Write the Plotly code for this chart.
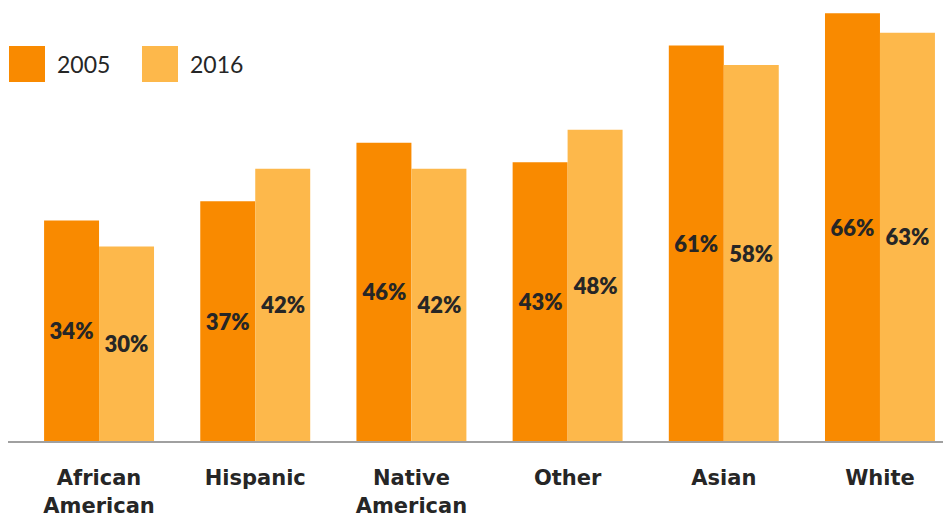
import plotly.graph_objects as go

categories = ["African<br>American", "Hispanic", "Native<br>American", "Other", "Asian", "White"]
values_2005 = [34, 37, 46, 43, 61, 66]
values_2016 = [30, 42, 42, 48, 58, 63]
series_names = ["2005", "2016"]
colors = ["#F98A00", "#FDB84B"]

FONT = "Lato"
TXT = "#262626"

W, H = 951, 517
PLOT_H = 433  # plot area height in figure pixels

fig = go.Figure()
for name, vals, col in zip(series_names, [values_2005, values_2016], colors):
    fig.add_trace(go.Bar(
        x=categories, y=vals, name=name, marker=dict(color=col, line=dict(width=0)),
        texttemplate="%{y}%", textposition="inside", insidetextanchor="middle",
        textfont=dict(family=FONT, size=22, color=TXT, weight=800),
        textangle=0, showlegend=False, hoverinfo="skip",
    ))

# legend drawn as shapes + annotations for large swatches
leg_x = [1, 134]
for i, (name, col) in enumerate(zip(series_names, colors)):
    x0 = leg_x[i]
    fig.add_shape(type="rect", xref="paper", yref="paper",
                  x0=x0 / W, x1=(x0 + 36) / W,
                  y0=(PLOT_H - 74) / PLOT_H, y1=(PLOT_H - 38) / PLOT_H,
                  fillcolor=col, line=dict(width=0), layer="above")
    fig.add_annotation(xref="paper", yref="paper",
                       x=(x0 + 46) / W, y=(PLOT_H - 56) / PLOT_H,
                       xanchor="left", yanchor="middle", showarrow=False,
                       text=name, font=dict(family=FONT, size=23, color=TXT))

fig.update_layout(
    width=W, height=H,
    margin=dict(l=0, r=0, t=0, b=H - PLOT_H, autoexpand=False),
    barmode="group", bargap=0.296, bargroupgap=0,
    plot_bgcolor="white", paper_bgcolor="white",
    xaxis=dict(range=[-0.583, 5.506], showline=True, linecolor="#A0A0A0", linewidth=2,
               ticks="", showgrid=False, zeroline=False, automargin=False,
               ticklabelstandoff=17,
               tickfont=dict(family="DejaVu Sans", size=21, color=TXT, weight=700)),
    yaxis=dict(range=[0, 66.8], visible=False, showgrid=False, zeroline=False, automargin=False),
)

fig.write_html("out.html")
